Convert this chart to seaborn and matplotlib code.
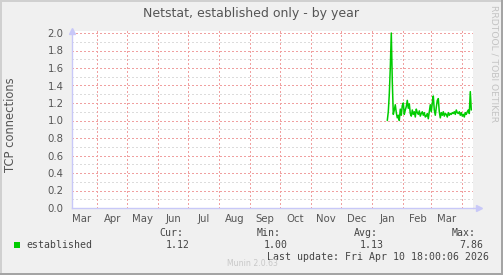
import numpy as np
import pandas as pd
import matplotlib
matplotlib.use("Agg")
import matplotlib.pyplot as plt
import matplotlib.dates as mdates
from matplotlib.patches import Rectangle
import seaborn as sns

# ---------------- data ----------------
start_date = "2026-01-16"
established = [
    1.00, 1.10, 1.30, 1.60, 2.00, 1.45, 1.07, 1.12, 1.18, 1.09,
    1.03, 1.06, 1.00, 1.13, 1.06, 1.17, 1.20, 1.07, 1.12, 1.16,
    1.23, 1.14, 1.19, 1.08, 1.05, 1.12, 1.07, 1.10, 1.04, 1.13,
    1.09, 1.07, 1.11, 1.05, 1.08, 1.10, 1.06, 1.09, 1.04, 1.05,
    1.08, 1.02, 1.10, 1.18, 1.10, 1.20, 1.28, 1.12, 1.06, 1.15,
    1.23, 1.25, 1.10, 1.03, 1.09, 1.06, 1.10, 1.05, 1.08, 1.07,
    1.04, 1.09, 1.06, 1.08, 1.07, 1.09, 1.08, 1.10, 1.07, 1.12,
    1.09, 1.08, 1.10, 1.06, 1.09, 1.05, 1.07, 1.04, 1.09, 1.07,
    1.10, 1.12, 1.08, 1.33, 1.12,
]
stat_labels = ["Cur:", "Min:", "Avg:", "Max:"]
stat_values = ["1.12", "1.00", "1.13", "7.86"]
series_name = "established"
title = "Netstat, established only - by year"
ylabel = "TCP connections"
last_update = "Last update: Fri Apr 10 18:00:06 2026"
month_labels = ["Mar", "Apr", "May", "Jun", "Jul", "Aug", "Sep", "Oct",
                "Nov", "Dec", "Jan", "Feb", "Mar"]

dates = pd.date_range(start_date, periods=len(established), freq="D")
df = pd.DataFrame({"date": dates, "value": established})

# ---------------- figure ----------------
W, H = 503, 275
sns.set_style("white")
plt.rcParams["font.family"] = ["DejaVu Sans"]
fig = plt.figure(figsize=(W / 100, H / 100), dpi=100, facecolor="#F0F0F0")

def fx(x):
    return x / W

def fy(y):
    return 1 - y / H

# plot area in pixels
L, R, T, B = 72, 473, 31, 208
ax = fig.add_axes([fx(L), fy(B), fx(R) - fx(L), fy(T) - fy(B)])
ax.set_facecolor("white")

x0 = mdates.date2num(pd.Timestamp("2025-03-06 17:00"))
x1 = mdates.date2num(pd.Timestamp("2026-04-11 17:00"))
ax.set_xlim(x0, x1)
ax.set_ylim(0, 2.0 * (B - T) / (B - 33))

# grid lines
grid_red = "#F0A0A0"
grid_gray = "#DCDCDC"
for v in np.arange(0.1, 2.01, 0.2):
    ax.axhline(v, color=grid_gray, lw=1.0, ls=(0, (1, 2)), zorder=1, antialiased=False)
for v in np.arange(0.2, 2.01, 0.2):
    ax.axhline(v, color=grid_red, lw=1.0, ls=(0, (1, 2)), zorder=1, antialiased=False)
month_starts = pd.date_range("2025-04-01", "2026-04-01", freq="MS")
for d in month_starts:
    ax.axvline(mdates.date2num(d), color=grid_red, lw=1.0, ls=(0, (1, 2)), zorder=1,
               antialiased=False)

sns.lineplot(data=df, x="date", y="value", ax=ax, color="#00CC00", lw=1.1,
             zorder=3, legend=False)

# ticks
ax.set_yticks(np.arange(0, 2.01, 0.2))
ax.set_yticklabels([f"{v:.1f}" for v in np.arange(0, 2.01, 0.2)])
label_dates = [pd.Timestamp(year=d.year, month=d.month, day=16) for d in
               pd.date_range("2025-03-01", periods=13, freq="MS")]
ax.set_xticks([mdates.date2num(d) for d in label_dates])
ax.set_xticklabels(month_labels)
ax.tick_params(axis="both", length=0, labelsize=7.3, colors="#555555", pad=4)
ax.tick_params(axis="y", pad=6)
ax.set_xlabel("")
ax.set_ylabel("")

for s in ["top", "right"]:
    ax.spines[s].set_visible(False)
for s in ["left", "bottom"]:
    ax.spines[s].set_color("#C8C8F8")
    ax.spines[s].set_linewidth(1.0)
    ax.spines[s].set_zorder(4)

# axis arrows
ax.plot([0], [1.0], marker="^", ms=5, color="#C8C8F8", transform=ax.transAxes,
        clip_on=False, zorder=5)
ax.plot([1.0 + 6 / (R - L)], [0], marker=">", ms=5, color="#C8C8F8",
        transform=ax.transAxes, clip_on=False, zorder=5)
ax.plot([1.0, 1.0 + 6 / (R - L)], [0, 0], color="#C8C8F8", lw=1.0,
        transform=ax.transAxes, clip_on=False, zorder=5)

# texts
fig.text(fx(251), fy(14), title, ha="center", va="center", fontsize=9, color="#555555")
fig.text(fx(11), fy(125), ylabel, ha="center", va="center", rotation=90,
         fontsize=8.3, color="#555555")
fig.text(fx(494), fy(5), "RRDTOOL / TOBI OETIKER", ha="center", va="top",
         rotation=270, fontsize=6.6, color="#C4C4C4")

mono = "DejaVu Sans Mono"
fig.patches.append(Rectangle((fx(14), fy(248)), fx(6), 6 / H, transform=fig.transFigure,
                             facecolor="#00CC00", edgecolor="none"))
fig.text(fx(26), fy(245), series_name, ha="left", va="center", family=mono,
         fontsize=7.1, color="#444444")
label_x = [183, 281, 378, 476]
value_x = [190, 288, 384, 483]
for lx, vx, lab, val in zip(label_x, value_x, stat_labels, stat_values):
    fig.text(fx(lx), fy(233), lab, ha="right", va="center", family=mono,
             fontsize=7.1, color="#444444")
    fig.text(fx(vx), fy(245), val, ha="right", va="center", family=mono,
             fontsize=7.1, color="#444444")
fig.text(fx(489), fy(257), last_update, ha="right", va="center", family=mono,
         fontsize=7.1, color="#444444")
fig.text(fx(252), fy(264), "Munin 2.0.63", ha="center", va="center",
         fontsize=5.6, color="#C8C8C8")

# bevel border
fig.patches.append(Rectangle((0, 0), fx(2), 1, transform=fig.transFigure,
                             facecolor="#D0D0D0", edgecolor="none"))
fig.patches.append(Rectangle((0, fy(2)), 1, 2 / H, transform=fig.transFigure,
                             facecolor="#D0D0D0", edgecolor="none"))
fig.patches.append(Rectangle((fx(W - 2), 0), fx(2), 1, transform=fig.transFigure,
                             facecolor="#A4A4A4", edgecolor="none"))
fig.patches.append(Rectangle((0, 0), 1, 2 / H, transform=fig.transFigure,
                             facecolor="#A4A4A4", edgecolor="none"))

fig.savefig("out.png", dpi=100, facecolor=fig.get_facecolor())
